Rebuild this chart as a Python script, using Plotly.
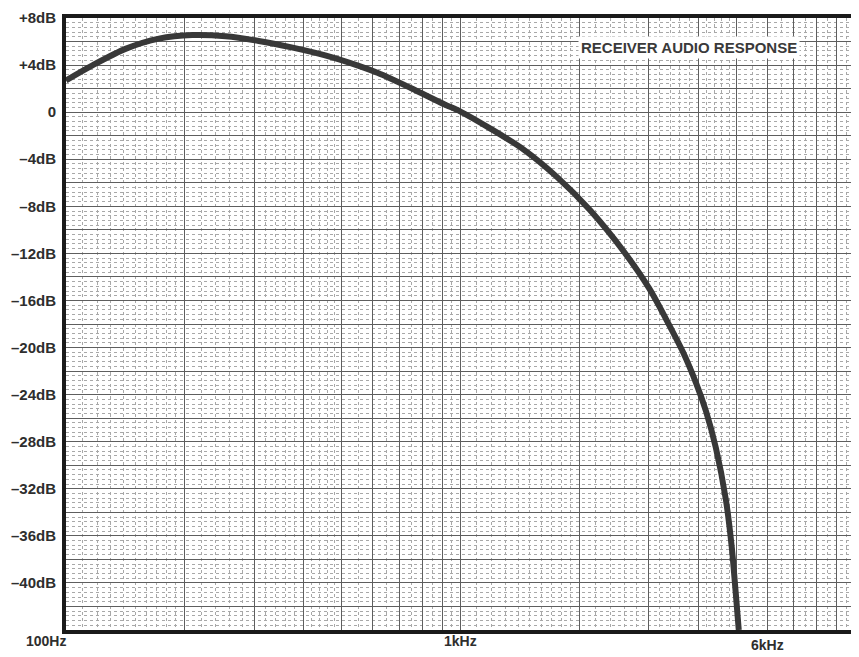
import numpy as np
import plotly.graph_objects as go

# --- Data ---
freq_hz = [100, 117, 142, 172, 209, 254, 308, 373, 454, 550, 618, 748, 912,
           1000, 1191, 1449, 1755, 2126, 2588, 3011, 3321, 3666, 3953, 4190,
           4438, 4705, 4872, 4984, 5074]
gain_db = [2.7, 4.0, 5.4, 6.25, 6.55, 6.45, 6.05, 5.5, 4.82, 3.95, 3.32, 2.05, 0.65,
           0.05, -1.4, -3.2, -5.5, -8.3, -11.8, -15.0, -17.6, -20.4, -23.0, -25.4,
           -28.5, -32.9, -37.0, -40.8, -44.0]

# axis labels
x_label_freqs = [100, 1000, 6000]
x_label_text = ["100Hz", "1kHz", "6kHz"]
y_label_vals = list(range(8, -41, -4))

def db_text(v):
    if v > 0:
        return f"+{v}dB"
    if v == 0:
        return "0"
    return f"–{abs(v)}dB"

# --- graph-paper grid values ---
major_x = [m * 10 ** d for d in (2, 3) for m in range(1, 10)] + [10000]
minor_x = []
for d in (2, 3):
    base = 10 ** d
    minor_x += [base * v for v in np.arange(1.1, 2.0, 0.1)]
    minor_x += [base * v for v in np.arange(2.2, 5.0, 0.2)]
    minor_x += [base * v for v in np.arange(5.5, 10.0, 0.5)]
minor_x = [v for v in minor_x if all(abs(v - m) > 1e-6 * m for m in major_x)]

major_y = list(range(8, -45, -2))
major_y_text = [db_text(v) if v in y_label_vals else "" for v in major_y]
minor_y = [round(v, 2) for v in np.arange(-44, 8, 0.4)
           if abs(v / 2 - round(v / 2)) > 1e-6]

ink = "#2e2e2e"
fig = go.Figure()

fig.add_trace(go.Scatter(
    x=freq_hz, y=gain_db,
    mode="lines",
    line=dict(color="#383838", width=6, shape="spline", smoothing=0.8),
    hoverinfo="x+y",
    showlegend=False,
))

# x labels as annotations so they can sit like the printed ones
shifts = {100: (-20, 0), 1000: (0, 0), 6000: (0, -4)}
for f, t in zip(x_label_freqs, x_label_text):
    dx, dy = shifts[f]
    fig.add_annotation(
        x=np.log10(f), y=0, xref="x", yref="paper",
        text=t, showarrow=False, xanchor="center", yanchor="top",
        xshift=dx, yshift=dy - 1,
        font=dict(family="Liberation Sans, Arial", size=14, color=ink, weight="bold"),
    )

fig.add_annotation(
    x=0.789, y=0.951, xref="paper", yref="paper",
    xanchor="center", yanchor="middle",
    text="RECEIVER AUDIO RESPONSE", showarrow=False,
    bgcolor="white", borderpad=2,
    font=dict(family="Liberation Sans, Arial", size=15, color="#3a3a3a", weight="bold"),
)

# page body adds an 8px offset, so the figure is sized to fill the rest
fig.update_layout(
    width=851, height=649,
    margin=dict(l=58, r=0, t=10, b=27),
    paper_bgcolor="white",
    plot_bgcolor="white",
    xaxis=dict(
        type="log", range=[2, 4.0],
        tickvals=major_x, ticktext=[""] * len(major_x),
        showgrid=True, gridcolor="#5e5e5e", gridwidth=1.3,
        showline=True, linecolor="#1a1a1a", linewidth=4, mirror=True,
        ticks="", zeroline=False,
        minor=dict(tickvals=minor_x, showgrid=True, gridcolor="#a8a8a8",
                   griddash="dot", gridwidth=1, ticks=""),
    ),
    yaxis=dict(
        range=[-44, 8],
        tickvals=major_y, ticktext=major_y_text,
        showgrid=True, gridcolor="#5e5e5e", gridwidth=1.3,
        showline=True, linecolor="#1a1a1a", linewidth=4, mirror=True,
        ticks="", zeroline=False, ticklabelstandoff=3,
        tickfont=dict(family="Liberation Sans, Arial", size=15, color=ink, weight="bold"),
        minor=dict(tickvals=minor_y, showgrid=True, gridcolor="#a8a8a8",
                   griddash="dot", gridwidth=1, ticks=""),
    ),
)

fig.write_html("out.html")
